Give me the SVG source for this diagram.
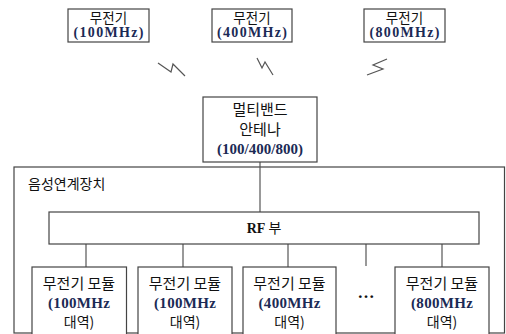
<svg xmlns="http://www.w3.org/2000/svg" width="506" height="334" viewBox="0 0 506 334">
<style>
.box{fill:#fff;stroke:#444;stroke-width:1.2}
.ln{fill:none;stroke:#555;stroke-width:1.2}
.zz{fill:none;stroke:#555;stroke-width:1.2;stroke-linejoin:miter}
.ko{font-family:"Noto Sans CJK KR","Noto Sans",sans-serif;font-size:14px;fill:#111;text-anchor:middle}
.km{font-family:"Noto Sans CJK KR","Noto Sans",sans-serif;font-size:15px;fill:#111;text-anchor:middle}
.kt{font-family:"Noto Sans CJK KR","Noto Sans",sans-serif;font-size:13.5px;fill:#111;text-anchor:middle}
.num{font-family:"Liberation Serif","Times New Roman",serif;font-weight:bold;font-size:15px;fill:#1b2a55;text-anchor:middle}
.nt{font-family:"Liberation Serif","Times New Roman",serif;font-weight:bold;font-size:14px;fill:#1b2a55;text-anchor:middle}
</style>
<rect width="506" height="334" fill="#fff"/>
<g id="outer">
<rect class="box" x="14" y="167" width="490.5" height="166"/>
<text class="ko" x="28" y="189" style="text-anchor:start">음성연계장치</text>
</g>
<g id="connectors">
<line class="ln" x1="260" y1="162" x2="260" y2="212"/>
<line class="ln" x1="86" y1="244" x2="86" y2="267"/>
<line class="ln" x1="183" y1="244" x2="183" y2="267"/>
<line class="ln" x1="288" y1="244" x2="288" y2="267"/>
<line class="ln" x1="366" y1="244" x2="366" y2="266"/>
<line class="ln" x1="442" y1="244" x2="442" y2="267"/>
<polyline class="zz" points="158,63 171,72 173,64 185,76"/>
<polyline class="zz" points="257,58 262,68 265,62 273,75"/>
<polyline class="zz" points="387,59 373,65 383,69 367,75"/>
</g>
<g id="radio100">
<rect class="box" x="68" y="9" width="81" height="33"/>
<text class="kt" x="108.5" y="22.5">무전기</text>
<text class="nt" x="108.5" y="37" textLength="70" lengthAdjust="spacing">(100MHz)</text>
</g>
<g id="radio400">
<rect class="box" x="212" y="9" width="80" height="33"/>
<text class="kt" x="252" y="22.5">무전기</text>
<text class="nt" x="252" y="37" textLength="70" lengthAdjust="spacing">(400MHz)</text>
</g>
<g id="radio800">
<rect class="box" x="364" y="9" width="81" height="33"/>
<text class="kt" x="404.5" y="22.5">무전기</text>
<text class="nt" x="404.5" y="37" textLength="70" lengthAdjust="spacing">(800MHz)</text>
</g>
<g id="antenna">
<rect class="box" x="203" y="97" width="114" height="65"/>
<text class="km" x="260" y="115">멀티밴드</text>
<text class="km" x="260" y="135">안테나</text>
<text class="num" x="260" y="154">(100/400/800)</text>
</g>
<g id="rf">
<rect class="box" x="49" y="212" width="430" height="32"/>
<text x="264" y="233" style="font-family:'Liberation Serif',serif;font-weight:bold;font-size:14px;fill:#111;text-anchor:middle">RF <tspan style="font-family:'Noto Sans CJK KR',sans-serif;font-weight:normal">부</tspan></text>
</g>
<g id="module100a">
<rect class="box" x="32" y="267" width="94.5" height="70"/>
<text class="km" x="79" y="289">무전기 모듈</text>
<text class="num" x="79" y="308" textLength="62">(100MHz</text>
<text class="ko" x="79" y="327">대역)</text>
</g>
<g id="module100b">
<rect class="box" x="138" y="267" width="94" height="70"/>
<text class="km" x="185" y="289">무전기 모듈</text>
<text class="num" x="185" y="308" textLength="62">(100MHz</text>
<text class="ko" x="185" y="327">대역)</text>
</g>
<g id="module400">
<rect class="box" x="243" y="267" width="93" height="70"/>
<text class="km" x="289.5" y="289">무전기 모듈</text>
<text class="num" x="289.5" y="308" textLength="62">(400MHz</text>
<text class="ko" x="289.5" y="327">대역)</text>
</g>
<g id="dots">
<text x="366" y="298" style="font-family:'Liberation Serif',serif;font-weight:bold;font-size:17px;fill:#111;text-anchor:middle">…</text>
</g>
<g id="module800">
<rect class="box" x="395" y="267" width="94" height="70"/>
<text class="km" x="442" y="289">무전기 모듈</text>
<text class="num" x="442" y="308" textLength="62">(800MHz</text>
<text class="ko" x="442" y="327">대역)</text>
</g>
</svg>
